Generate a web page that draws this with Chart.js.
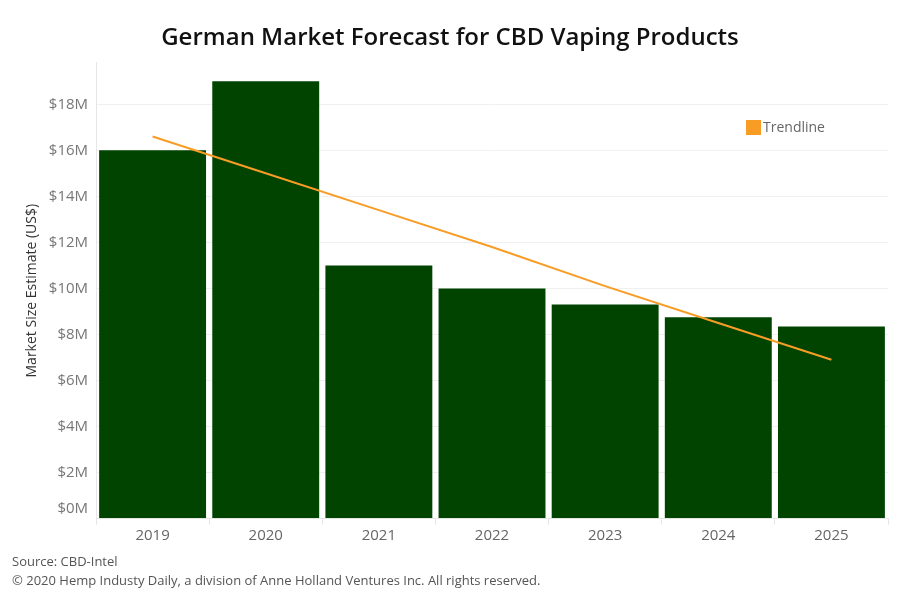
<!DOCTYPE html>
<html>
<head>
<meta charset="utf-8">
<script src="https://cdn.jsdelivr.net/npm/chart.js@4.4.0/dist/chart.umd.min.js"></script>
<style>
  html, body { margin: 0; padding: 0; background: #fff; }
  #wrap { width: 900px; height: 600px; position: relative; }
</style>
</head>
<body>
<div id="wrap"><canvas id="myChart"></canvas></div>
<script>
var ctx = document.getElementById("myChart").getContext('2d');

// values in millions of US$
const years = ["2019", "2020", "2021", "2022", "2023", "2024", "2025"];
const marketSize = [16, 19, 11, 10, 9.3, 8.75, 8.35];
const trendline = [16.6, 15.0, 13.4, 11.8, 10.1, 8.5, 6.9];
const yTicks = [0, 2, 4, 6, 8, 10, 12, 14, 16, 18];

const trendColor = '#f89c26';
const tickFont = '15px "Open Sans"';

// legend box inside the plot (top right) + the $0M label, lifted off the axis
const extras = {
  id: 'extras',
  afterDraw(chart) {
    const c = chart.ctx;
    const y = chart.scales.y;
    c.save();
    c.fillStyle = trendColor;
    c.fillRect(746, 120, 15, 15);
    c.fillStyle = '#666';
    c.font = '14px "Open Sans"';
    c.textBaseline = 'middle';
    c.fillText('Trendline', 763, 128);

    c.fillStyle = '#777';
    c.font = tickFont;
    c.textAlign = 'right';
    c.fillText('$0M', y.right - 8, y.getPixelForValue(0) - 10);
    c.restore();
  }
};

const data = {
  labels: years,
  datasets: [{
    type: 'line',
    label: 'Trendline',
    data: trendline,
    borderColor: trendColor,
    backgroundColor: trendColor,
    borderWidth: 2,
    pointRadius: 0,
    fill: false,
    order: 0
  }, {
    type: 'bar',
    label: 'Market Size',
    data: marketSize,
    backgroundColor: '#004400',
    categoryPercentage: 1,
    barPercentage: 0.945,
    order: 1
  }]
};

const config = {
  data,
  plugins: [extras],
  options: {
    responsive: true,
    maintainAspectRatio: false,
    animation: false,
    layout: { padding: { left: 12, right: 12, top: 4, bottom: 4 } },
    plugins: {
      legend: { display: false },
      tooltip: { enabled: false },
      title: {
        display: true,
        text: 'German Market Forecast for CBD Vaping Products',
        color: '#111',
        font: { family: 'Open Sans', size: 24, weight: 600 },
        padding: { top: 20, bottom: 10 }
      },
      subtitle: {
        display: true,
        position: 'bottom',
        align: 'start',
        text: ['Source: CBD-Intel', '\u00a9 2020 Hemp Industy Daily, a division of Anne Holland Ventures Inc. All rights reserved.'],
        color: '#555',
        font: { family: 'Open Sans', size: 13, lineHeight: 1.4 },
        padding: { top: 7, bottom: 6 }
      }
    },
    scales: {
      x: {
        grid: { display: true, drawOnChartArea: false, color: '#e6e6e6', tickLength: 6, offset: true },
        border: { color: '#e6e6e6' },
        ticks: { color: '#666', font: { family: 'Open Sans', size: 15 }, padding: 2 }
      },
      y: {
        min: 0,
        max: 19.8,
        afterBuildTicks(scale) {
          scale.ticks = yTicks.map(v => ({ value: v }));
        },
        grid: { color: '#f0f0f0', drawTicks: false },
        border: { color: '#e6e6e6' },
        ticks: {
          color: '#777',
          font: { family: 'Open Sans', size: 15 },
          padding: 8,
          callback: v => v === 0 ? '' : '$' + v + 'M'
        },
        title: {
          display: true,
          text: 'Market Size Estimate (US$)',
          color: '#333',
          font: { family: 'Open Sans', size: 14 },
          padding: { top: 12, bottom: 0 }
        }
      }
    }
  }
};

var myChart = new Chart(ctx, config);
</script>
</body>
</html>
